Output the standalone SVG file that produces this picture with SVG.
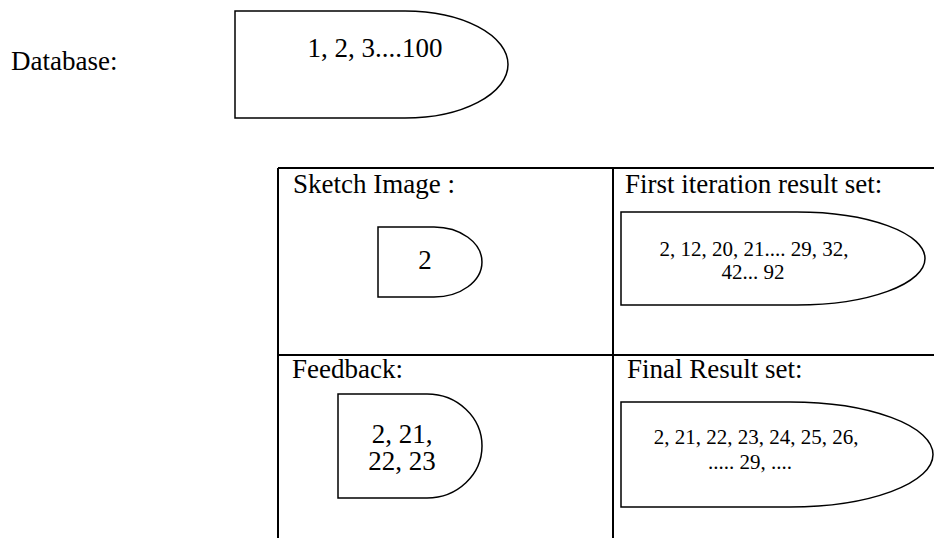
<svg xmlns="http://www.w3.org/2000/svg" width="934" height="538" viewBox="0 0 934 538">
<style>
text{font-family:"Liberation Serif","Times New Roman",serif;fill:#000}
.lbl{font-size:27px}
.big{font-size:27px;text-anchor:middle}
.sm{font-size:21px;text-anchor:middle}
.shape{fill:#fff;stroke:#000;stroke-width:1.5}
.grid{stroke:#000;stroke-width:2;fill:none}
</style>
<rect width="934" height="538" fill="#fff"/>
<text class="lbl" x="11" y="70">Database:</text>
<g id="database">
<path class="shape" d="M235,11 H405 A103,53.5 0 0 1 405,118 H235 Z"/>
<text class="big" x="375" y="57">1, 2, 3....100</text>
</g>
<g id="table">
<path class="grid" d="M278,168 H940 M278,168 V545 M613,168 V545 M278,355 H940"/>
</g>
<g id="sketch">
<text class="lbl" x="293" y="193">Sketch Image :</text>
<path class="shape" d="M378,227 H434 A48,35 0 0 1 434,297 H378 Z"/>
<text class="big" x="425" y="269">2</text>
</g>
<g id="first">
<text class="lbl" x="625" y="193">First iteration result set:</text>
<path class="shape" d="M621,212 H797 A128,46.5 0 0 1 797,305 H621 Z"/>
<text class="sm" x="754" y="256">2, 12, 20, 21.... 29, 32,</text>
<text class="sm" x="753" y="279">42... 92</text>
</g>
<g id="feedback">
<text class="lbl" x="292" y="378">Feedback:</text>
<path class="shape" d="M338,394 H427 A55,52 0 0 1 427,498 H338 Z"/>
<text class="big" x="402" y="443">2, 21,</text>
<text class="big" x="402" y="470">22, 23</text>
</g>
<g id="final">
<text class="lbl" x="627" y="378">Final Result set:</text>
<path class="shape" d="M621,402 H790 A143,52.5 0 0 1 790,507 H621 Z"/>
<text class="sm" x="756" y="444">2, 21, 22, 23, 24, 25, 26,</text>
<text class="sm" x="750" y="469">..... 29, ....</text>
</g>
</svg>
